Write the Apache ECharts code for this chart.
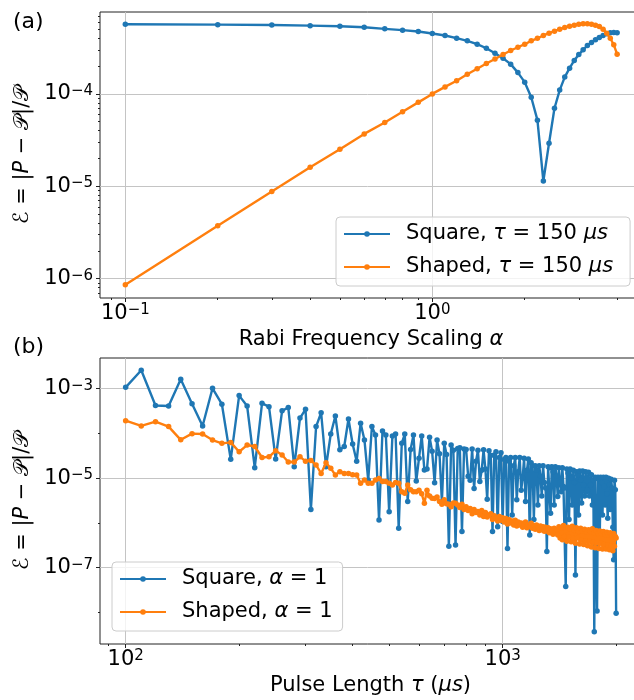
<!DOCTYPE html>
<html>
<head>
<meta charset="utf-8">
<title>Pulse error vs Rabi scaling and pulse length</title>
<script src="https://cdn.jsdelivr.net/npm/echarts@6/dist/echarts.min.js"></script>
<style>
  html, body { margin: 0; padding: 0; background: #fff; }
  #chart { width: 634px; height: 700px; }
</style>
</head>
<body>
<div id="chart"></div>
<script type="text/javascript">
// ---- panel (a): error vs Rabi frequency scaling alpha, tau = 150 us
var alphaA = [0.1, 0.2, 0.3, 0.4, 0.5, 0.6, 0.7, 0.8, 0.9, 1.0,
              1.1, 1.2, 1.3, 1.4, 1.5, 1.6, 1.7, 1.8, 1.9, 2.0,
              2.1, 2.2, 2.3, 2.4, 2.5, 2.6, 2.7, 2.8, 2.9, 3.0,
              3.1, 3.2, 3.3, 3.4, 3.5, 3.6, 3.7, 3.8, 3.9, 4.0];
var squareA = [5.68e-4, 5.62e-4, 5.57e-4, 5.48e-4, 5.39e-4, 5.27e-4, 5.06e-4, 4.90e-4, 4.73e-4, 4.51e-4,
               4.29e-4, 4.01e-4, 3.75e-4, 3.45e-4, 3.12e-4, 2.76e-4, 2.43e-4, 2.10e-4, 1.70e-4, 1.34e-4,
               9.2e-5, 5.2e-5, 1.14e-5, 2.92e-5, 7.0e-5, 1.10e-4, 1.52e-4, 1.90e-4, 2.30e-4, 2.67e-4,
               3.0e-4, 3.34e-4, 3.60e-4, 3.85e-4, 4.08e-4, 4.29e-4, 4.47e-4, 4.58e-4, 4.62e-4, 4.58e-4];
var shapedA = [8.6e-7, 3.74e-6, 8.8e-6, 1.61e-5, 2.52e-5, 3.69e-5, 4.9e-5, 6.4e-5, 8.1e-5, 1.0e-4,
               1.19e-4, 1.39e-4, 1.63e-4, 1.87e-4, 2.13e-4, 2.39e-4, 2.67e-4, 2.95e-4, 3.2e-4, 3.45e-4,
               3.75e-4, 4.0e-4, 4.29e-4, 4.54e-4, 4.77e-4, 5.02e-4, 5.23e-4, 5.41e-4, 5.55e-4, 5.69e-4,
               5.73e-4, 5.73e-4, 5.69e-4, 5.55e-4, 5.36e-4, 5.02e-4, 4.54e-4, 4.0e-4, 3.4e-4, 2.69e-4];

// ---- panel (b): error vs pulse length tau, alpha = 1
var tauB = [100, 110, 120, 130, 140, 150, 160, 170, 180, 190,
            200, 210, 220, 230, 240, 250, 260, 270, 280, 290,
            300, 310, 320, 330, 340, 350, 360, 370, 380, 390,
            400, 410, 420, 430, 440, 450, 460, 470, 480, 490,
            500, 510, 520, 530, 540, 550, 560, 570, 580, 590,
            600, 610, 620, 630, 640, 650, 660, 670, 680, 690,
            700, 710, 720, 730, 740, 750, 760, 770, 780, 790,
            800, 810, 820, 830, 840, 850, 860, 870, 880, 890,
            900, 910, 920, 930, 940, 950, 960, 970, 980, 990,
            1000, 1010, 1020, 1030, 1040, 1050, 1060, 1070, 1080, 1090,
            1100, 1110, 1120, 1130, 1140, 1150, 1160, 1170, 1180, 1190,
            1200, 1210, 1220, 1230, 1240, 1250, 1260, 1270, 1280, 1290,
            1300, 1310, 1320, 1330, 1340, 1350, 1360, 1370, 1380, 1390,
            1400, 1410, 1420, 1430, 1440, 1450, 1460, 1470, 1480, 1490,
            1500, 1510, 1520, 1530, 1540, 1550, 1560, 1570, 1580, 1590,
            1600, 1610, 1620, 1630, 1640, 1650, 1660, 1670, 1680, 1690,
            1700, 1710, 1720, 1730, 1740, 1750, 1760, 1770, 1780, 1790,
            1800, 1810, 1820, 1830, 1840, 1850, 1860, 1870, 1880, 1890,
            1900, 1910, 1920, 1930, 1940, 1950, 1960, 1970, 1980, 1990,
            2000];
var squareB = [1.07e-3, 2.58e-3, 4.2e-4, 4.1e-4, 1.62e-3, 4.6e-4, 1.47e-4, 1.02e-3, 4.5e-4, 2.64e-5,
               7.0e-4, 4.1e-4, 1.72e-5, 4.7e-4, 3.97e-4, 2.7e-5, 3.2e-4, 3.8e-4, 1.8e-5, 2.2e-4,
               3.46e-4, 2.0e-6, 1.42e-4, 2.9e-4, 1.8e-5, 9.7e-5, 2.45e-4, 4.3e-5, 5.1e-5, 2.1e-4,
               5.8e-5, 2.4e-5, 1.69e-4, 7.1e-5, 9.1e-6, 1.42e-4, 9.2e-5, 1.16e-6, 1.13e-4, 9.2e-5,
               1.78e-6, 8.8e-5, 9.7e-5, 7.6e-7, 6.0e-5, 9.7e-5, 3.0e-6, 4.4e-5, 9.2e-5, 8.6e-6,
               2.8e-5, 8.8e-5, 1.52e-5, 1.6e-5, 8.2e-5, 4.0e-5, 7.9e-6, 7.1e-5, 3.5e-5, 3.0e-6,
               6.0e-5, 3.4e-5, 3.0e-7, 5.5e-5, 4.2e-5, 3.2e-7, 4.6e-5, 4.8e-5, 6.4e-7, 4.5e-5,
               4.4e-5, 1.1e-5, 9.0e-6, 4.5e-5, 5.9e-6, 2.4e-5, 4.2e-5, 8.4e-6, 1.5e-5, 4.3e-5,
               1.6e-5, 3.4e-6, 4.1e-5, 3.2e-5, 6.4e-7, 3.3e-5, 3.9e-5, 8.2e-7, 2.9e-5, 3.7e-5,
               1.07e-6, 2.6e-5, 2.9e-5, 2.7e-7, 2.4e-5, 2.9e-5, 1.5e-6, 1.9e-5, 2.9e-5, 3.3e-6,
               1.4e-5, 2.9e-5, 5.4e-6, 1.0e-5, 2.8e-5, 3.0e-6, 1.5e-5, 2.7e-5, 5.4e-7, 2.2e-5,
               1.9e-5, 1.2e-6, 1.9e-5, 1.5e-5, 2.5e-6, 1.9e-5, 1.1e-5, 4.0e-6, 1.9e-5, 8.0e-6,
               6.0e-6, 2.3e-7, 1.8e-5, 1.7e-5, 1.64e-6, 1.8e-5, 1.4e-5, 2.5e-6, 1.8e-5, 1.1e-5,
               3.9e-6, 1.7e-5, 8.0e-6, 5.0e-6, 1.7e-5, 6.5e-6, 6.0e-6, 3.8e-8, 1.6e-5, 1.3e-5,
               1.2e-6, 1.6e-5, 1.0e-5, 2.5e-6, 1.5e-5, 8.0e-6, 6.9e-8, 1.4e-5, 1.2e-5, 1.5e-6,
               1.45e-5, 9.0e-6, 2.8e-6, 1.45e-5, 7.0e-6, 4.0e-6, 1.4e-5, 5.0e-6, 5.5e-6, 1.35e-5,
               4.0e-6, 7.0e-6, 1.2e-5, 2.5e-6, 9.0e-6, 3.7e-9, 1.05e-5, 1.0e-5, 1.07e-8, 1.05e-5,
               9.5e-6, 6.0e-7, 1.05e-5, 8.0e-6, 1.5e-6, 1.05e-5, 6.5e-6, 2.5e-6, 1.05e-5, 4.5e-6,
               1.27e-6, 1.0e-5, 7.0e-6, 2.0e-6, 9.5e-6, 6.0e-6, 8.0e-7, 1.5e-7, 9.0e-6, 5.5e-6,
               9.6e-9];
var shapedB = [1.93e-4, 1.47e-4, 1.83e-4, 1.42e-4, 7.2e-5, 9.9e-5, 9.7e-5, 7.1e-5, 6.0e-5, 6.3e-5,
               3.9e-5, 5.5e-5, 5.1e-5, 2.9e-5, 3.0e-5, 4.1e-5, 3.3e-5, 2.3e-5, 2.3e-5, 3.0e-5,
               2.4e-5, 2.5e-5, 1.97e-5, 1.28e-5, 2.2e-5, 1.66e-5, 1.18e-5, 1.4e-5, 1.28e-5, 1.28e-5,
               1.2e-5, 1.18e-5, 7.7e-6, 9.1e-6, 7.7e-6, 7.7e-6, 9.1e-6, 9.9e-6, 8.4e-6, 8.4e-6,
               7.7e-6, 7.0e-6, 8.0e-6, 7.7e-6, 5.0e-6, 4.6e-6, 7.0e-6, 5.5e-6, 5.0e-6, 5.0e-6,
               5.4e-6, 4.5e-6, 2.75e-6, 5.4e-6, 4.0e-6, 3.55e-6, 3.5e-6, 3.8e-6, 3.0e-6, 2.6e-6,
               3.3e-6, 2.7e-6, 2.6e-6, 2.3e-6, 2.8e-6, 2.75e-6, 2.5e-6, 2.2e-6, 2.6e-6, 2.0e-6,
               2.3e-6, 1.9e-6, 2.1e-6, 1.6e-6, 2.0e-6, 1.7e-6, 1.8e-6, 1.5e-6, 1.9e-6, 1.4e-6,
               1.7e-6, 1.35e-6, 1.5e-6, 1.6e-6, 1.2e-6, 1.45e-6, 1.25e-6, 1.1e-6, 1.4e-6, 1.15e-6,
               1.3e-6, 1.05e-6, 1.25e-6, 9.5e-7, 1.2e-6, 1.0e-6, 1.1e-6, 9.0e-7, 1.15e-6, 8.5e-7,
               1.05e-6, 9.0e-7, 1.0e-6, 8.0e-7, 9.5e-7, 1.05e-6, 7.8e-7, 9.0e-7, 8.2e-7, 9.8e-7,
               7.6e-7, 8.8e-7, 7.2e-7, 9.0e-7, 7.8e-7, 6.8e-7, 8.5e-7, 7.0e-7, 8.2e-7, 6.5e-7,
               8.0e-7, 6.6e-7, 7.8e-7, 6.0e-7, 7.4e-7, 6.8e-7, 5.6e-7, 7.6e-7, 6.2e-7, 7.0e-7,
               5.4e-7, 8.2e-7, 4.6e-7, 7.6e-7, 4.2e-7, 8.8e-7, 5.0e-7, 7.0e-7, 3.9e-7, 8.0e-7,
               4.8e-7, 7.4e-7, 3.8e-7, 8.4e-7, 4.5e-7, 6.8e-7, 3.5e-7, 7.8e-7, 4.6e-7, 6.4e-7,
               3.4e-7, 7.6e-7, 4.2e-7, 6.6e-7, 3.3e-7, 7.2e-7, 4.0e-7, 6.2e-7, 3.1e-7, 7.0e-7,
               3.9e-7, 6.4e-7, 2.9e-7, 7.4e-7, 3.7e-7, 6.0e-7, 2.8e-7, 6.8e-7, 3.6e-7, 5.8e-7,
               2.7e-7, 6.6e-7, 3.5e-7, 5.6e-7, 2.6e-7, 6.4e-7, 3.3e-7, 5.5e-7, 2.6e-7, 6.2e-7,
               3.2e-7, 5.4e-7, 2.5e-7, 6.0e-7, 3.1e-7, 5.2e-7, 2.4e-7, 5.8e-7, 3.0e-7, 5.0e-7,
               4.6e-7];

// tick positions (major ones get labels, minor ones only short marks)
var ticksAx = [0.1, 1];
var ticksAy = [1e-6, 1e-5, 1e-4];
var ticksBx = [100, 1000];
var ticksBy = [1e-7, 1e-5, 1e-3];
var minorAx = [0.09, 0.2, 0.3, 0.4, 0.5, 0.6, 0.7, 0.8, 0.9, 2, 3, 4];
var minorAy = [7e-7, 8e-7, 9e-7, 2e-6, 3e-6, 4e-6, 5e-6, 6e-6, 7e-6, 8e-6, 9e-6,
               2e-5, 3e-5, 4e-5, 5e-5, 6e-5, 7e-5, 8e-5, 9e-5, 2e-4, 3e-4, 4e-4, 5e-4, 6e-4, 7e-4];
var minorBx = [90, 200, 300, 400, 500, 600, 700, 800, 900, 2000];
var minorBy = [1e-8, 1e-6, 1e-4];

var FONT = 'DejaVu Sans';
var BLUE = '#1f77b4', ORANGE = '#ff7f0e';

function pow10Label(v) {
    var e = Math.round(Math.log(v) / Math.LN10);
    return '{b|10}{e|' + (e < 0 ? '\u2212' + (-e) : e) + '}';
}
var powRich = {
    b: { fontSize: 21, fontFamily: FONT, color: '#000', verticalAlign: 'bottom', lineHeight: 21, padding: [6, 0, 0, 0] },
    e: { fontSize: 15, fontFamily: FONT, color: '#000', verticalAlign: 'top', lineHeight: 15 }
};
var nameRich = {
    i: { fontStyle: 'italic', fontSize: 21, fontFamily: FONT, color: '#000' },
    c: { fontSize: 21, fontFamily: FONT, color: '#000' }
};
var gridLine = { show: true, lineStyle: { color: '#c4c4c4', width: 1 } };

function majorAxis(gridIndex, min, max, ticks, isX, name, gap) {
    return {
        type: 'log', logBase: 10, gridIndex: gridIndex, min: min, max: max,
        position: isX ? 'bottom' : 'left',
        name: name, nameLocation: 'middle', nameGap: gap, nameRotate: isX ? 0 : 90,
        nameTextStyle: { fontSize: 21, fontFamily: FONT, color: '#000', rich: nameRich },
        axisLine: { show: false, onZero: false },
        axisTick: { show: true, length: 4, customValues: ticks, lineStyle: { color: '#222', width: 1 } },
        axisLabel: { customValues: ticks, formatter: pow10Label, rich: powRich, margin: isX ? 5 : 7 },
        splitLine: gridLine
    };
}
function minorAxis(gridIndex, min, max, ticks, isX) {
    return {
        type: 'log', logBase: 10, gridIndex: gridIndex, min: min, max: max,
        position: isX ? 'bottom' : 'left',
        axisLine: { show: false, onZero: false },
        axisTick: { show: true, length: 2, customValues: ticks, lineStyle: { color: '#222', width: 1 } },
        axisLabel: { show: false },
        splitLine: { show: false }
    };
}

function pairs(xs, ys) {
    return xs.map(function (x, i) { return [x, ys[i]]; });
}
function lineSeries(name, color, xi, yi, xs, ys, z) {
    return {
        name: name, type: 'line', xAxisIndex: xi, yAxisIndex: yi, z: z,
        data: pairs(xs, ys),
        symbol: 'circle', symbolSize: 5.5, showSymbol: true, showAllSymbol: true,
        lineStyle: { color: color, width: 2.4 },
        itemStyle: { color: color },
        emphasis: { disabled: true }
    };
}

var legendNames = {
    'Square, τ = 150 μs': 'Square, {i|τ} = 150 {i|μs}',
    'Shaped, τ = 150 μs': 'Shaped, {i|τ} = 150 {i|μs}',
    'Square, α = 1': 'Square, {i|α} = 1',
    'Shaped, α = 1': 'Shaped, {i|α} = 1'
};
function legendBox(left, top, names, padRight) {
    return {
        data: names, orient: 'vertical', left: left, top: top,
        itemWidth: 46, itemHeight: 7, itemGap: 11,
        padding: [6, padRight, 8, 7],
        backgroundColor: 'rgba(255,255,255,0.8)', borderColor: '#cccccc', borderWidth: 1, borderRadius: 4,
        selectedMode: false,
        formatter: function (n) { return legendNames[n]; },
        textStyle: {
            fontSize: 21, fontFamily: FONT, color: '#000', lineHeight: 22, padding: [0, 0, 0, 11],
            rich: { i: { fontStyle: 'italic', fontSize: 21, fontFamily: FONT, color: '#000' } }
        }
    };
}

var yName = '{c|ℰ} = |{i|P} − {c|𝒫}|/{c|𝒫}';

var chart = echarts.init(document.getElementById('chart'), null, { renderer: 'canvas' });
var option = {
    animation: false,
    backgroundColor: '#fff',
    title: [
        { text: '(a)', left: 8, top: 6, textStyle: { fontSize: 22, fontWeight: 'normal', fontFamily: FONT, color: '#000' } },
        { text: '(b)', left: 8, top: 331, textStyle: { fontSize: 22, fontWeight: 'normal', fontFamily: FONT, color: '#000' } }
    ],
    // plot boxes run past the right edge of the canvas, as in the source figure
    grid: [
        { left: 100, width: 542, top: 12, height: 286, outerBoundsMode: 'none', containLabel: false,
          show: true, borderColor: '#222', borderWidth: 1, backgroundColor: 'transparent' },
        { left: 100, width: 541, top: 358, height: 286, outerBoundsMode: 'none', containLabel: false,
          show: true, borderColor: '#222', borderWidth: 1, backgroundColor: 'transparent' }
    ],
    xAxis: [
        majorAxis(0, 0.0827, 4.82, ticksAx, true, 'Rabi Frequency Scaling {i|α}', 31),
        majorAxis(1, 85.5, 2328, ticksBx, true, 'Pulse Length {i|τ} ({i|μs})', 31),
        minorAxis(0, 0.0827, 4.82, minorAx, true),
        minorAxis(1, 85.5, 2328, minorBx, true)
    ],
    yAxis: [
        majorAxis(0, 6.18e-7, 7.70e-4, ticksAy, false, yName, 55),
        majorAxis(1, 1.97e-9, 4.85e-3, ticksBy, false, yName, 55),
        minorAxis(0, 6.18e-7, 7.70e-4, minorAy, false),
        minorAxis(1, 1.97e-9, 4.85e-3, minorBy, false)
    ],
    legend: [
        legendBox(336, 217, ['Square, τ = 150 μs', 'Shaped, τ = 150 μs'], 17),
        legendBox(112, 562, ['Square, α = 1', 'Shaped, α = 1'], 10)
    ],
    series: [
        lineSeries('Square, τ = 150 μs', BLUE, 0, 0, alphaA, squareA, 2),
        lineSeries('Shaped, τ = 150 μs', ORANGE, 0, 0, alphaA, shapedA, 3),
        lineSeries('Square, α = 1', BLUE, 1, 1, tauB, squareB, 2),
        lineSeries('Shaped, α = 1', ORANGE, 1, 1, tauB, shapedB, 3)
    ]
};
chart.setOption(option);
</script>
</body>
</html>
